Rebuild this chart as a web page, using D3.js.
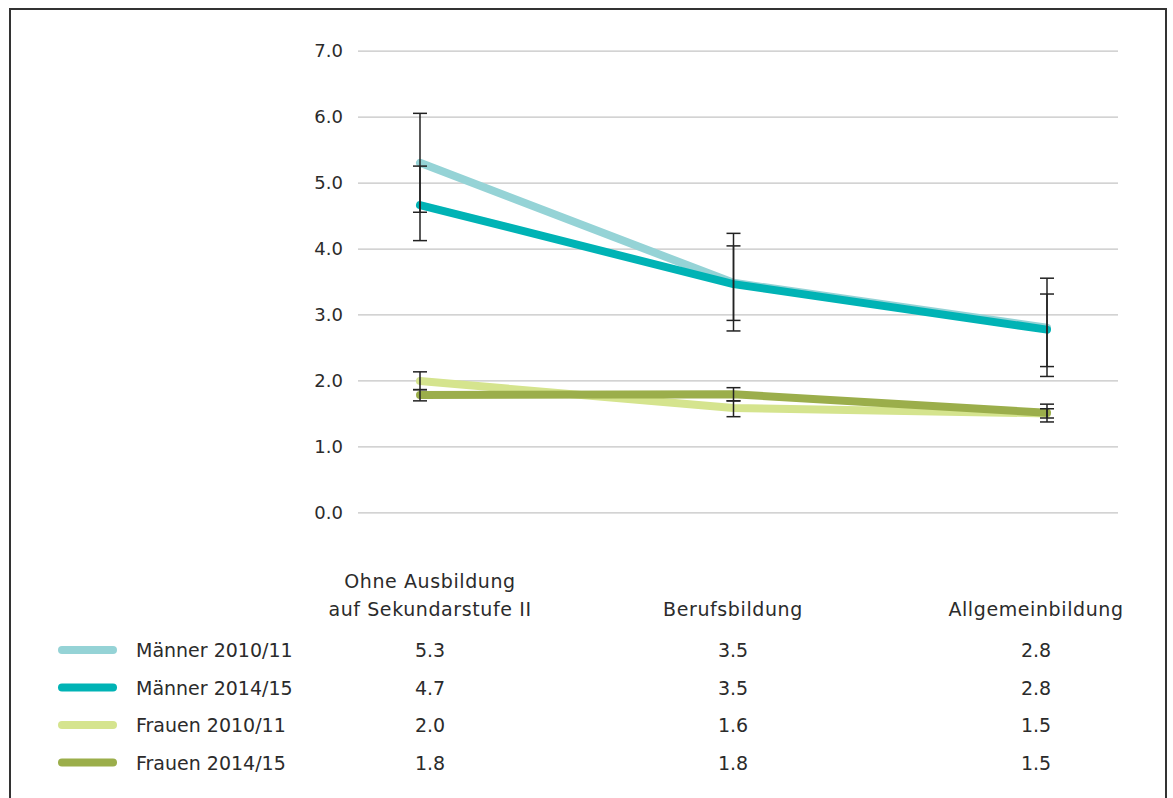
<!DOCTYPE html>
<html>
<head>
<meta charset="utf-8">
<script src="https://cdn.jsdelivr.net/npm/d3@7/dist/d3.min.js"></script>
<style>
  html, body { margin: 0; padding: 0; background: #fff; }
  svg { display: block; }
  text { font-family: "DejaVu Sans", sans-serif; fill: #2b2b2b; }
</style>
</head>
<body>
<svg id="chart" width="1173" height="798"></svg>
<script>
// ---- Data ----
const categories = ["Ohne Ausbildung auf Sekundarstufe II", "Berufsbildung", "Allgemeinbildung"];
const categoryLabelLines = [["Ohne Ausbildung", "auf Sekundarstufe II"], ["Berufsbildung"], ["Allgemeinbildung"]];
const seriesNames = ["Männer 2010/11", "Männer 2014/15", "Frauen 2010/11", "Frauen 2014/15"];
const seriesColors = ["#95d3d6", "#00b3b5", "#d5e48e", "#9bae4b"];

const maenner2010 = [5.30, 3.48, 2.80];
const maenner2014 = [4.66, 3.46, 2.77];
const frauen2010  = [1.99, 1.58, 1.50];
const frauen2014  = [1.78, 1.79, 1.51];

const maenner2010Low  = [4.55, 2.91, 2.06];
const maenner2010High = [6.05, 4.04, 3.55];
const maenner2014Low  = [4.12, 2.75, 2.21];
const maenner2014High = [5.25, 4.23, 3.31];
const frauen2010Low   = [1.86, 1.45, 1.37];
const frauen2010High  = [2.13, 1.69, 1.64];
const frauen2014Low   = [1.69, 1.69, 1.43];
const frauen2014High  = [1.86, 1.89, 1.57];

const yTicks = [0, 1, 2, 3, 4, 5, 6, 7];

const seriesValues = [maenner2010, maenner2014, frauen2010, frauen2014];
const seriesLow = [maenner2010Low, maenner2014Low, frauen2010Low, frauen2014Low];
const seriesHigh = [maenner2010High, maenner2014High, frauen2010High, frauen2014High];

// ---- Layout ----
const svg = d3.select("#chart");

// frame
svg.append("rect")
  .attr("x", 10).attr("y", 9).attr("width", 1156).attr("height", 830)
  .attr("fill", "none").attr("stroke", "#333").attr("stroke-width", 2);

const y = d3.scaleLinear().domain([0, 7]).range([512.3, 50.7]);
const x = d3.scalePoint().domain(categories).range([420, 1047]);
const col = d3.scalePoint().domain(categories).range([430, 1036]);
const gridX0 = 358, gridX1 = 1118;

// gridlines + tick labels via axis
const yAxis = d3.axisLeft(y).tickValues(yTicks).tickFormat(d3.format(".1f"))
  .tickSize(-(gridX1 - gridX0)).tickPadding(15);
const gAxis = svg.append("g").attr("transform", `translate(${gridX0},0)`).call(yAxis);
gAxis.select(".domain").remove();
gAxis.selectAll(".tick line").attr("stroke", "#c4c4c4").attr("stroke-width", 1.2);
gAxis.selectAll(".tick text").attr("font-size", 18).attr("fill", "#2b2b2b")
  .style("font-family", "'DejaVu Sans', sans-serif");

// lines
const line = d3.line().x((d, i) => x(categories[i])).y(d => y(d));
seriesValues.forEach((vals, s) => {
  svg.append("path")
    .datum(vals)
    .attr("d", line)
    .attr("fill", "none")
    .attr("stroke", seriesColors[s])
    .attr("stroke-width", 8)
    .attr("stroke-linecap", "round")
    .attr("stroke-linejoin", "round");
});

// error bars
const capW = 7;
const gErr = svg.append("g").attr("stroke", "#222").attr("stroke-width", 1.5);
seriesValues.forEach((vals, s) => {
  vals.forEach((v, i) => {
    const cx = x(categories[i]);
    const lo = y(seriesLow[s][i]), hi = y(seriesHigh[s][i]);
    gErr.append("line").attr("x1", cx).attr("x2", cx).attr("y1", lo).attr("y2", hi);
    gErr.append("line").attr("x1", cx - capW).attr("x2", cx + capW).attr("y1", lo).attr("y2", lo);
    gErr.append("line").attr("x1", cx - capW).attr("x2", cx + capW).attr("y1", hi).attr("y2", hi);
  });
});

// table header
const headerBaseline = 616, headerLineH = 28;
categoryLabelLines.forEach((lines, i) => {
  const n = lines.length;
  lines.forEach((t, j) => {
    svg.append("text")
      .attr("x", col(categories[i]))
      .attr("y", headerBaseline - (n - 1 - j) * headerLineH)
      .attr("text-anchor", "middle")
      .attr("font-size", 19)
      .attr("letter-spacing", "0.6px")
      .text(t);
  });
});

// legend rows + values
const rowBaseline0 = 657, rowStep = 37.5;
seriesNames.forEach((name, s) => {
  const by = rowBaseline0 + s * rowStep;
  svg.append("line")
    .attr("x1", 62).attr("x2", 113)
    .attr("y1", by - 7).attr("y2", by - 7)
    .attr("stroke", seriesColors[s]).attr("stroke-width", 8)
    .attr("stroke-linecap", "round");
  svg.append("text").attr("x", 136).attr("y", by).attr("font-size", 19).text(name);
  seriesValues[s].forEach((v, i) => {
    svg.append("text")
      .attr("x", col(categories[i]))
      .attr("y", by)
      .attr("text-anchor", "middle")
      .attr("font-size", 19)
      .text(v.toFixed(1));
  });
});
</script>
</body>
</html>
